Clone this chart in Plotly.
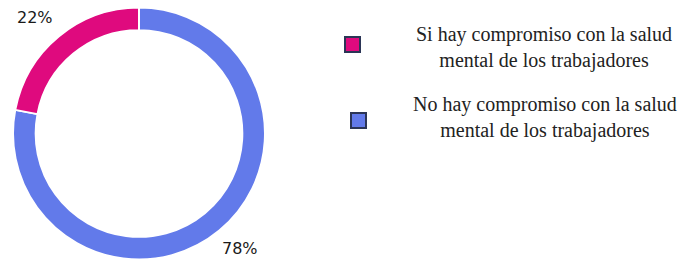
import plotly.graph_objects as go

categories = ["Si hay compromiso con la salud mental de los trabajadores",
              "No hay compromiso con la salud mental de los trabajadores"]
legend_lines = [["Si hay compromiso con la salud", "mental de los trabajadores"],
                ["No hay compromiso con la salud", "mental de los trabajadores"]]
values = [22, 78]
colors = ["#DF0A7E", "#627AEA"]

W, H = 691, 262

# draw "No" first clockwise from 12 o'clock so "Si" ends up in the upper-left
order = [1, 0]
fig = go.Figure(go.Pie(
    labels=[categories[i] for i in order],
    values=[values[i] for i in order],
    hole=0.82,
    sort=False,
    direction="clockwise",
    rotation=0,
    marker=dict(colors=[colors[i] for i in order], line=dict(color="white", width=2)),
    textinfo="none",
    hoverinfo="label+percent",
    showlegend=False,
    domain=dict(x=[13 / W, 265 / W], y=[1 - 260 / H, 1 - 7 / H]),
))

total = sum(values)
pct_pos = [(35, 17), (240, 248)]
annotations = []
for v, (px, py) in zip(values, pct_pos):
    annotations.append(dict(
        x=px / W, y=1 - py / H, xref="paper", yref="paper",
        text=f"{round(100 * v / total)}%", showarrow=False,
        font=dict(family="DejaVu Sans", size=16, color="#1A1A1A"),
        xanchor="center", yanchor="middle"))

shapes = []
sq = [(345, 37), (351, 113)]
text_centers = [(544, 48), (545, 117)]
for i, (lines, col) in enumerate(zip(legend_lines, colors)):
    sx, sy = sq[i]
    shapes.append(dict(type="rect", xref="paper", yref="paper",
                       x0=sx / W, x1=(sx + 15) / W,
                       y0=1 - (sy + 15) / H, y1=1 - sy / H,
                       fillcolor=col, line=dict(color="#2B3556", width=2)))
    tx, ty = text_centers[i]
    annotations.append(dict(
        x=tx / W, y=1 - ty / H, xref="paper", yref="paper",
        text="<br>".join(lines), showarrow=False, align="center",
        font=dict(family="Liberation Serif", size=20, color="#222222"),
        xanchor="center", yanchor="middle"))

fig.update_layout(
    width=W, height=H,
    margin=dict(l=0, r=0, t=0, b=0),
    paper_bgcolor="white", plot_bgcolor="white",
    annotations=annotations, shapes=shapes,
)

fig.write_html("out.html", config={"displayModeBar": False},
               post_script="document.body.style.margin='0';document.body.style.overflow='hidden';")
